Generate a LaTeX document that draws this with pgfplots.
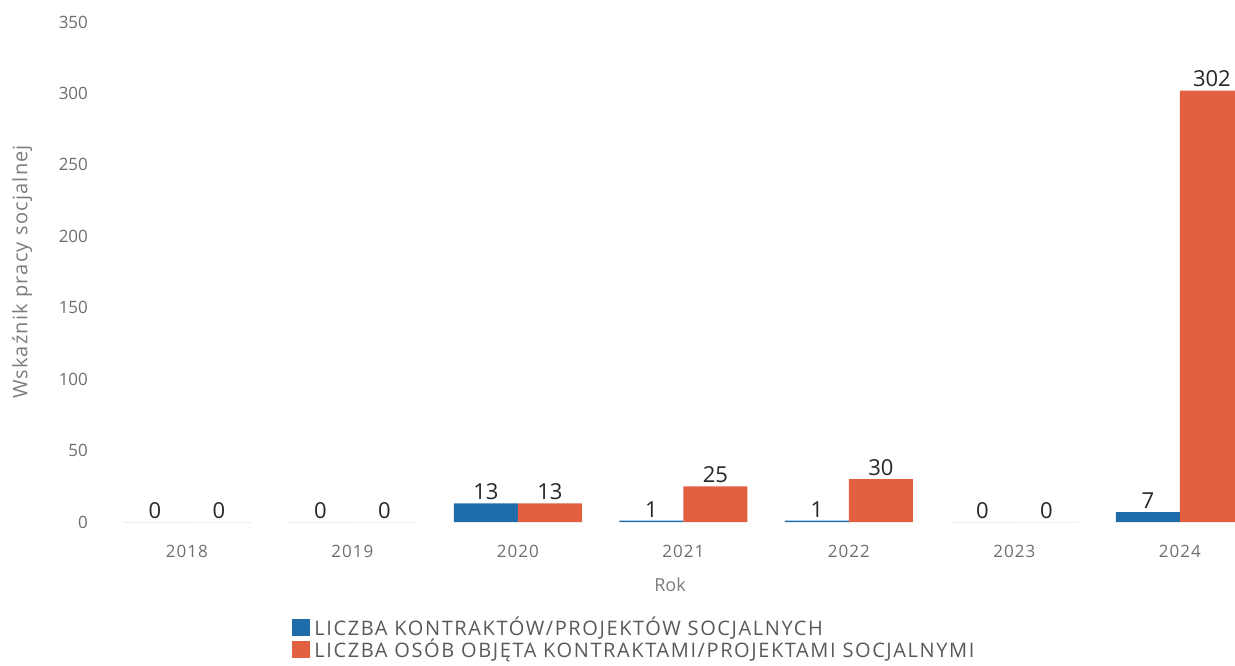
\documentclass[border=0pt]{standalone}
\usepackage{fontspec}
\setmainfont{Open Sans}
\newfontfamily\widefont[LetterSpace=8]{Open Sans}
\newfontfamily\labfont[LetterSpace=6]{Open Sans}
\usepackage{pgfplots}
\pgfplotsset{compat=1.18}

\definecolor{barblue}{RGB}{31,108,170}
\definecolor{barred}{RGB}{226,96,64}
\definecolor{ticktxt}{RGB}{110,110,110}
\definecolor{labtxt}{RGB}{125,125,125}

\begin{document}
\begin{tikzpicture}
% reference is 1235x665 px, here 1 px = 0.5pt, plot lower left at (105,522)
\path[use as bounding box] (-52.5pt,-71.5pt) rectangle (565pt,261pt);
\begin{axis}[
    at={(0,0)}, anchor=south west,
    scale only axis,
    width=565pt, height=250pt,
    ybar=0pt, bar width=32pt,
    xmin=-0.495, xmax=6.333,
    ymin=0, ymax=350,
    ytick={0,50,...,350},
    xtick={0,...,6},
    xticklabels={2018,2019,2020,2021,2022,2023,2024},
    axis line style={draw=none},
    tick style={draw=none},
    /pgf/number format/assume math mode=true,
    ticklabel style={font=\fontsize{8.5}{10}\selectfont, text=ticktxt},
    xticklabel style={font=\fontsize{8.5}{10}\selectfont\labfont, yshift=-4pt},
    yticklabel style={xshift=-5pt},
    xlabel={Rok},
    ylabel={Wskaźnik pracy socjalnej},
    label style={font=\fontsize{9}{11}\selectfont, text=labtxt},
    xlabel style={at={(axis description cs:0.5,0)}, anchor=center, yshift=-31.5pt},
    ylabel style={at={(axis description cs:0,0.5)}, anchor=center, yshift=41.5pt,
        font=\fontsize{10}{12}\selectfont\labfont},
    nodes near coords,
    every node near coord/.append style={font=\fontsize{11}{13}\selectfont, text=black!85, inner sep=1.5pt},
    legend style={at={(0.1655,-0.181)}, anchor=north west, draw=none, fill=none,
        font=\fontsize{10}{12}\selectfont\widefont, text=black!65,
        row sep=-4pt, column sep=0pt, inner sep=0pt},
    legend cell align=left,
    legend image code/.code={\fill[#1] (0pt,-4.1pt) rectangle (9pt,4.4pt);},
]
\addplot[fill=barblue, draw=none] coordinates {(0,0) (1,0) (2,13) (3,1) (4,1) (5,0) (6,7)};
\addplot[fill=barred, draw=none] coordinates {(0,0) (1,0) (2,13) (3,25) (4,30) (5,0) (6,302)};
\legend{LICZBA KONTRAKTÓW/PROJEKTÓW SOCJALNYCH, LICZBA OSÓB OBJĘTA KONTRAKTAMI/PROJEKTAMI SOCJALNYMI}
\end{axis}
\end{tikzpicture}
\end{document}
